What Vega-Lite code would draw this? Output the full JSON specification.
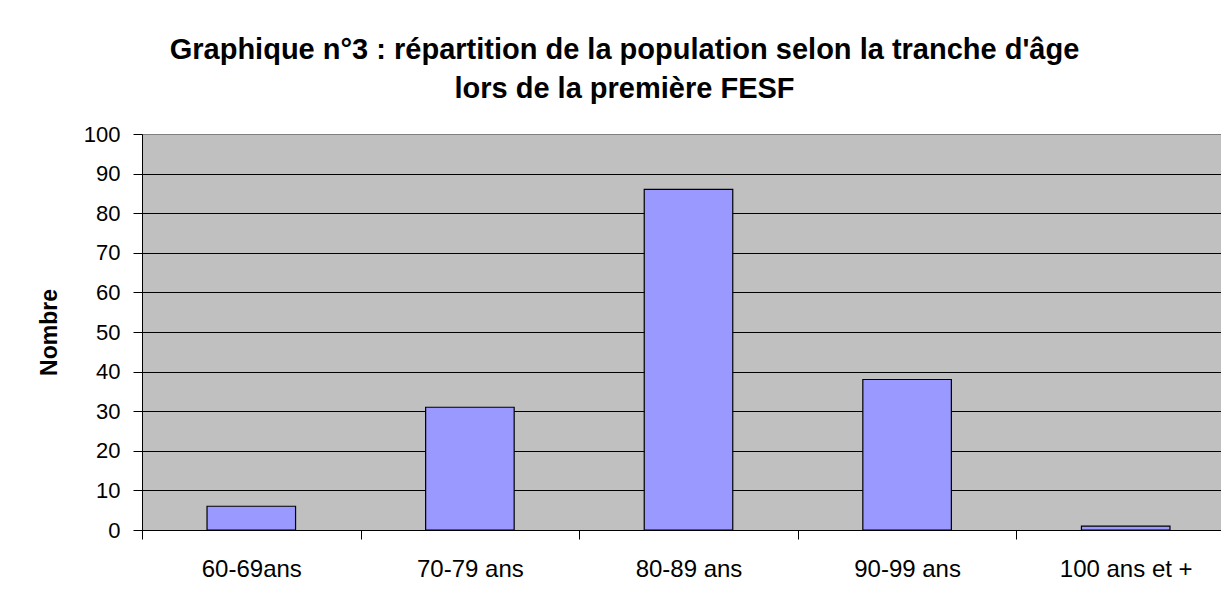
{
  "$schema": "https://vega.github.io/schema/vega-lite/v6.json",
  "autosize": {"type": "none"},
  "padding": {"left": 142, "top": 134, "right": 0, "bottom": 75},
  "width": 1079,
  "height": 396,
  "background": "white",
  "title": {
    "text": ["Graphique n°3 : répartition de la population selon la tranche d'âge", "lors de la première FESF"],
    "font": "Liberation Sans",
    "fontSize": 29,
    "fontWeight": "bold",
    "color": "black",
    "anchor": "middle",
    "dx": -57,
    "lineHeight": 39.5,
    "offset": 19
  },
  "data": {
    "values": [
      {"tranche": "60-69ans", "nombre": 6},
      {"tranche": "70-79 ans", "nombre": 31},
      {"tranche": "80-89 ans", "nombre": 86},
      {"tranche": "90-99 ans", "nombre": 38},
      {"tranche": "100 ans et +", "nombre": 1}
    ]
  },
  "mark": {"type": "bar", "fill": "#9999FF", "stroke": "black", "strokeWidth": 1.2, "width": {"band": 0.405}},
  "encoding": {
    "x": {
      "field": "tranche",
      "type": "nominal",
      "sort": null,
      "scale": {"range": [0, 1093], "paddingInner": 0, "paddingOuter": 0},
      "axis": {
        "title": null,
        "labelAngle": 0,
        "labelFont": "Liberation Sans",
        "labelFontSize": 24,
        "labelColor": "black",
        "labelPadding": 18,
        "tickBand": "extent",
        "tickSize": 9,
        "tickColor": "black",
        "domainColor": "black",
        "labelOverlap": false
      }
    },
    "y": {
      "field": "nombre",
      "type": "quantitative",
      "scale": {"domain": [0, 100], "nice": false},
      "axis": {
        "title": "Nombre",
        "titleFont": "Liberation Sans",
        "titleFontSize": 23,
        "titleFontWeight": "bold",
        "titleColor": "black",
        "titlePadding": 22,
        "values": [0, 10, 20, 30, 40, 50, 60, 70, 80, 90, 100],
        "labelFont": "Liberation Sans",
        "labelFontSize": 22,
        "labelColor": "black",
        "labelPadding": 13,
        "tickSize": 9,
        "tickColor": "black",
        "domainColor": "black",
        "grid": true,
        "gridColor": {"condition": {"test": "datum.value === 100", "value": "#808080"}, "value": "black"},
        "gridOpacity": 1,
        "gridWidth": 1
      }
    }
  },
  "config": {
    "view": {"fill": "#C0C0C0", "stroke": "#808080", "strokeWidth": 1}
  }
}
